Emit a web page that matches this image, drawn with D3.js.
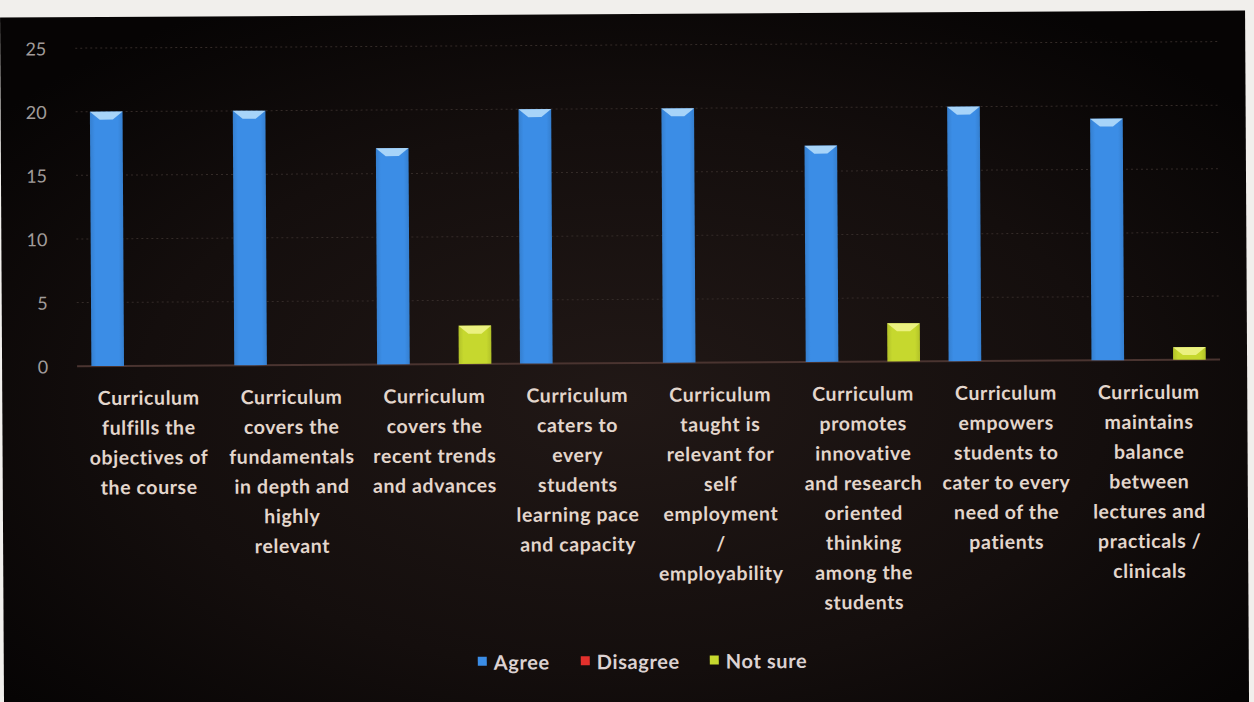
<!DOCTYPE html>
<html>
<head>
<meta charset="utf-8">
<script src="https://cdn.jsdelivr.net/npm/d3@7"></script>
<style>
  html, body { margin: 0; padding: 0; background: #f1efec; }
  svg { display: block; }
</style>
</head>
<body>
<script>
// survey answers per statement (20 respondents)
var categories = [
  "Curriculum|fulfills the|objectives of|the course",
  "Curriculum|covers the|fundamentals|in depth and|highly|relevant",
  "Curriculum|covers the|recent trends|and advances",
  "Curriculum|caters to|every|students|learning pace|and capacity",
  "Curriculum|taught is|relevant for|self|employment|/|employability",
  "Curriculum|promotes|innovative|and research|oriented|thinking|among the|students",
  "Curriculum|empowers|students to|cater to every|need of the|patients",
  "Curriculum|maintains|balance|between|lectures and|practicals /|clinicals"
];
var seriesNames = ["Agree", "Disagree", "Not sure"];
var agree    = [20, 20, 17, 20, 20, 17, 20, 19];
var disagree = [0, 0, 0, 0, 0, 0, 0, 0];
var notSure  = [0, 0, 3, 0, 0, 3, 0, 1];
var yTicks   = [0, 5, 10, 15, 20, 25];

var colors = { "Agree": "#3b8de6", "Disagree": "#e2302c", "Not sure": "#c6d82e" };
var caps   = { "Agree": "#b4dcfb", "Disagree": "#f59a90", "Not sure": "#eef48a" };

var width = 1254, height = 702;

var svg = d3.select("body").append("svg")
    .attr("width", width)
    .attr("height", height);

var defs = svg.append("defs");
var bg = defs.append("radialGradient").attr("id", "bg")
    .attr("cx", "50%").attr("cy", "55%").attr("r", "65%");
bg.append("stop").attr("offset", "0%").attr("stop-color", "#211816");
bg.append("stop").attr("offset", "60%").attr("stop-color", "#140e0d");
bg.append("stop").attr("offset", "100%").attr("stop-color", "#060404");

seriesNames.forEach(function(s, i) {
  var g = defs.append("linearGradient").attr("id", "bar" + i)
      .attr("x1", 0).attr("x2", 1).attr("y1", 0).attr("y2", 0);
  var c = d3.color(colors[s]);
  g.append("stop").attr("offset", "0%").attr("stop-color", c.darker(0.3));
  g.append("stop").attr("offset", "15%").attr("stop-color", c);
  g.append("stop").attr("offset", "85%").attr("stop-color", c);
  g.append("stop").attr("offset", "100%").attr("stop-color", c.darker(0.3));
});

// photo is slightly tilted
var chart = svg.append("g").attr("transform", "rotate(-0.33, 627, 351)");

chart.append("rect")
    .attr("x", 2).attr("y", 14)
    .attr("width", 1245).attr("height", 700)
    .attr("fill", "url(#bg)");

var x0 = d3.scaleBand()
    .domain(d3.range(categories.length))
    .range([77, 1220]);

var x1 = d3.scaleBand()
    .domain(seriesNames)
    .range([0, x0.bandwidth()])
    .paddingInner(0.2)
    .paddingOuter(0.35);

var y = d3.scaleLinear()
    .domain([0, 25])
    .range([363, 45]);

// gridlines
chart.append("g").selectAll("line")
    .data(yTicks.filter(function(d) { return d > 0; }))
    .enter().append("line")
    .attr("x1", x0.range()[0]).attr("x2", x0.range()[1])
    .attr("y1", function(d) { return y(d); })
    .attr("y2", function(d) { return y(d); })
    .attr("stroke", "#342b28")
    .attr("stroke-width", 1)
    .attr("stroke-dasharray", "2,3");

// y axis labels
var yAxis = d3.axisLeft(y).tickValues(yTicks).tickSize(0).tickPadding(0);
var yg = chart.append("g")
    .attr("transform", "translate(48,0)")
    .call(yAxis);
yg.select(".domain").remove();
yg.selectAll("text")
    .attr("fill", "#a19c9a")
    .attr("font-family", "Lato, 'Open Sans', sans-serif")
    .attr("font-size", 18)
    .attr("dy", "0.36em");

// baseline
chart.append("line")
    .attr("x1", x0.range()[0]).attr("x2", x0.range()[1])
    .attr("y1", y(0)).attr("y2", y(0))
    .attr("stroke", "#4a3430").attr("stroke-width", 2);

var table = categories.map(function(c, i) {
  return { i: i, values: [agree[i], disagree[i], notSure[i]] };
});

var groups = chart.append("g").selectAll("g")
    .data(table)
    .enter().append("g")
    .attr("transform", function(d) { return "translate(" + x0(d.i) + ",0)"; });

var bars = groups.selectAll("g")
    .data(function(d) {
      return seriesNames.map(function(s, k) { return { s: s, k: k, v: d.values[k] }; })
        .filter(function(b) { return b.v > 0; });
    })
    .enter().append("g");

bars.append("rect")
    .attr("x", function(b) { return x1(b.s); })
    .attr("y", function(b) { return y(b.v); })
    .attr("width", x1.bandwidth())
    .attr("height", function(b) { return y(0) - y(b.v); })
    .attr("fill", function(b) { return "url(#bar" + b.k + ")"; });

// bevel cap on top of each bar
bars.append("path")
    .attr("d", function(b) {
      var xa = x1(b.s), w = x1.bandwidth(), yt = y(b.v), h = 8;
      return "M" + xa + "," + yt + "L" + (xa + w) + "," + yt +
             "L" + (xa + w * 0.7) + "," + (yt + h) + "L" + (xa + w * 0.3) + "," + (yt + h) + "Z";
    })
    .attr("fill", function(b) { return caps[b.s]; })
    .attr("opacity", 0.9);

// category labels
var lab = chart.append("g").selectAll("text")
    .data(categories)
    .enter().append("text")
    .attr("x", function(d, i) { return x0(i) + x0.bandwidth() / 2; })
    .attr("y", 402)
    .attr("text-anchor", "middle")
    .attr("fill", "#e3d6cc")
    .attr("font-family", "Lato, 'Open Sans', sans-serif")
    .attr("font-weight", "bold")
    .attr("letter-spacing", 0.6)
    .attr("font-size", 19.5);

lab.selectAll("tspan")
    .data(function(d) { return d.split("|"); })
    .enter().append("tspan")
    .attr("x", function() { return d3.select(this.parentNode).attr("x"); })
    .attr("dy", function(d, i) { return i === 0 ? 0 : 29.8; })
    .text(function(d) { return d; });

// legend
var legendX = [492, 595, 724];
var leg = chart.append("g").selectAll("g")
    .data(seriesNames)
    .enter().append("g")
    .attr("transform", function(d, i) { return "translate(" + legendX[i] + ",662)"; });

leg.append("rect")
    .attr("x", -16).attr("y", -6)
    .attr("width", 9).attr("height", 9)
    .attr("fill", function(d) { return colors[d]; });

leg.append("text")
    .attr("x", 0).attr("y", 0)
    .attr("dy", "0.35em")
    .attr("fill", "#dcd2d2")
    .attr("font-family", "Lato, 'Open Sans', sans-serif")
    .attr("font-weight", "bold")
    .attr("letter-spacing", 0.6)
    .attr("font-size", 20)
    .text(function(d) { return d; });
</script>
</body>
</html>
